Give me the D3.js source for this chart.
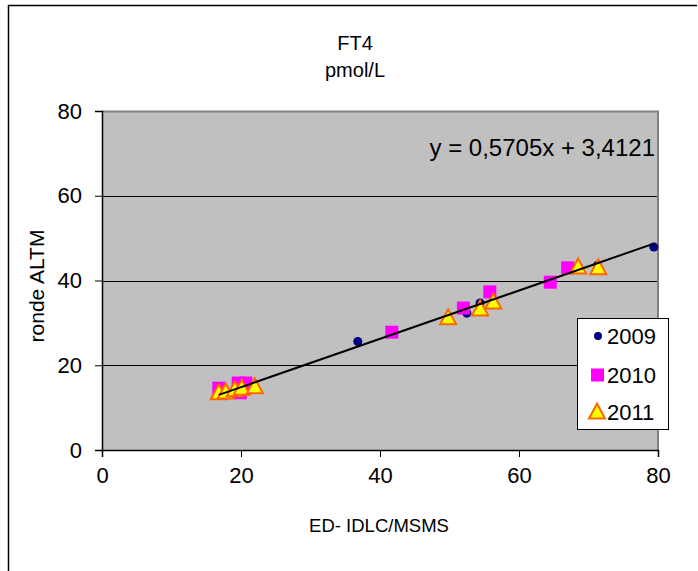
<!DOCTYPE html>
<html><head><meta charset="utf-8">
<script src="https://cdn.jsdelivr.net/npm/d3@7"></script>
<style>body{margin:0;background:#fff}svg{display:block}text{font-family:"Liberation Sans",Arial,sans-serif;fill:#000}</style>
</head><body>
<svg id="c" width="698" height="571"></svg>
<script>
const xTicks = [0, 20, 40, 60, 80];
const yTicks = [0, 20, 40, 60, 80];
const seriesNames = ["2009", "2010", "2011"];
const x2009 = [36.8, 52.5, 54.4, 71.3, 79.4];
const y2009 = [25.6, 32.3, 34.7, 43.6, 47.9];
const x2010 = [16.8, 19.6, 20.7, 19.9, 41.7, 52.0, 55.8, 64.5, 67.0];
const y2010 = [14.6, 15.8, 15.8, 13.5, 27.8, 33.5, 37.3, 39.6, 43.0];
const x2011 = [16.8, 17.8, 19.1, 20.1, 22.0, 49.8, 54.4, 56.3, 68.5, 71.4];
const y2011 = [13.5, 13.7, 14.2, 14.6, 14.9, 31.2, 33.3, 34.9, 43.2, 43.0];
const slope = 0.5705, intercept = 3.4121;
const eqLabel = "y = 0,5705x + 3,4121";
const titleLines = ["FT4", "pmol/L"];
const xTitle = "ED- IDLC/MSMS", yTitle = "ronde ALTM";

const svg = d3.select("#c");
const L = 102, R = 658, T = 111, B = 450;
const x = d3.scaleLinear().domain([0, 80]).range([L, R]);
const y = d3.scaleLinear().domain([0, 80]).range([B, T]);

svg.append("path").attr("d", "M8.5,571V5.5H697").attr("fill", "none").attr("stroke", "#000").attr("stroke-width", 1.5);

svg.append("rect").attr("x", L).attr("y", T).attr("width", R - L).attr("height", B - T).attr("fill", "#C0C0C0");
svg.append("g").selectAll("line").data(yTicks.filter(d => d > 0 && d < 80)).join("line")
  .attr("x1", L).attr("x2", R).attr("y1", d => Math.round(y(d)) + 0.5).attr("y2", d => Math.round(y(d)) + 0.5)
  .attr("stroke", "#000").attr("stroke-width", 1);
svg.append("path").attr("d", `M${L},${T + 0.5}H${R}V${B}`).attr("fill", "none").attr("stroke", "#808080").attr("stroke-width", 2);

const xa = svg.append("g").attr("transform", `translate(0,${B})`)
  .call(d3.axisBottom(x).tickValues(xTicks).tickSize(7).tickPadding(10).tickFormat(d3.format("d")));
const ya = svg.append("g").attr("transform", `translate(${L},0)`)
  .call(d3.axisLeft(y).tickValues(yTicks).tickSize(7).tickPadding(13).tickFormat(d3.format("d")));
[xa, ya].forEach(g => {
  g.select(".domain").attr("stroke", "#000").attr("stroke-width", 1.5);
  g.selectAll(".tick line").attr("stroke", "#000");
  g.selectAll("text").style("font-size", "22px").attr("fill", "#000");
});

const d2009 = x2009.map((v, i) => [v, y2009[i]]);
const d2010 = x2010.map((v, i) => [v, y2010[i]]);
const d2011 = x2011.map((v, i) => [v, y2011[i]]);
function drawCircle(g, cx, cy, r) { g.append("circle").attr("cx", cx).attr("cy", cy).attr("r", r || 4.5).attr("fill", "#000080"); }
function drawSquare(g, cx, cy) { g.append("rect").attr("x", cx - 6.5).attr("y", cy - 6.5).attr("width", 13).attr("height", 13).attr("fill", "#FF00FF"); }
function drawTri(g, cx, cy) {
  g.append("path").attr("transform", `translate(${cx},${cy})`)
    .attr("d", "M0,-8.5L8,6.5L-8,6.5Z").attr("fill", "#FFFF00").attr("stroke", "#FF6600").attr("stroke-width", 2).attr("stroke-linejoin", "miter");
}
const pg = svg.append("g");
d2009.forEach(d => drawCircle(pg, x(d[0]), y(d[1])));
d2010.forEach(d => drawSquare(pg, x(d[0]), y(d[1])));
d2011.forEach(d => drawTri(pg, x(d[0]), y(d[1])));

const allX = x2009.concat(x2010, x2011);
const x0 = d3.min(allX), x1 = d3.max(allX);
svg.append("line").attr("x1", x(x0)).attr("y1", y(slope * x0 + intercept))
  .attr("x2", x(x1)).attr("y2", y(slope * x1 + intercept))
  .attr("stroke", "#000").attr("stroke-width", 2);

svg.append("text").attr("x", 655).attr("y", 156).attr("text-anchor", "end").style("font-size", "24px").text(eqLabel);

svg.append("text").attr("x", 355).attr("y", 50).attr("text-anchor", "middle").style("font-size", "20px").text(titleLines[0]);
svg.append("text").attr("x", 355).attr("y", 77).attr("text-anchor", "middle").style("font-size", "20px").text(titleLines[1]);
svg.append("text").attr("x", 379).attr("y", 532).attr("text-anchor", "middle").style("font-size", "18.5px").text(xTitle);
svg.append("text").attr("transform", "translate(44,286) rotate(-90)").attr("text-anchor", "middle").style("font-size", "21px").text(yTitle);

const lg = svg.append("g");
lg.append("rect").attr("x", 577.5).attr("y", 318.5).attr("width", 91).attr("height", 111).attr("fill", "#fff").attr("stroke", "#000").attr("stroke-width", 1);
const ly = [336, 375, 412];
seriesNames.forEach((s, i) => {
  if (i === 0) drawCircle(lg, 598, ly[i], 4);
  else if (i === 1) lg.append("rect").attr("x", 591).attr("y", ly[i] - 6.5).attr("width", 13).attr("height", 13).attr("fill", "#FF00FF");
  else drawTri(lg, 597, ly[i]);
  lg.append("text").attr("x", 607).attr("y", ly[i] + 8).style("font-size", "22px").text(s);
});
</script>
</body></html>
